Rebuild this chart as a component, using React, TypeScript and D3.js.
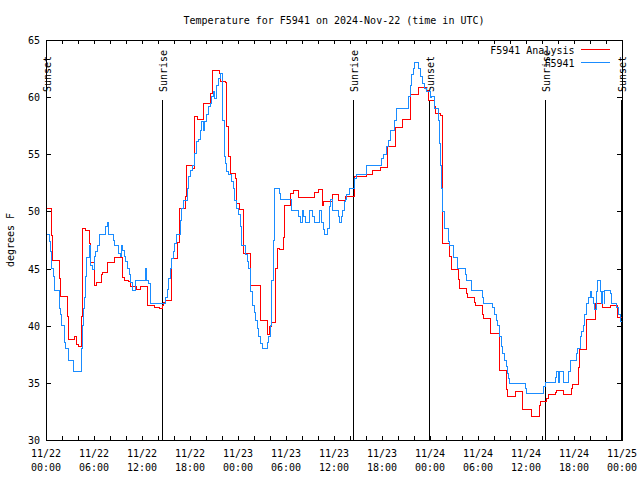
import React from 'react';
import * as d3 from 'd3';

// Hours since 2024-11-22 00:00 UTC, and temperatures (°F)
const redHours = [0,0.66,0.8,1.7,1.85,2.65,2.8,3.6,3.75,4.0,4.45,4.6,4.9,5.4,5.6,6.0,6.25,6.9,7.05,7.7,8.62,9.6,9.85,10.3,10.55,11.25,11.8,12.7,13.5,14.15,14.5,14.65,14.95,15.65,16.45,16.65,17.4,17.55,18.35,18.6,18.9,19.65,20.5,20.85,21.65,21.85,22.4,22.6,22.85,23.05,23.65,23.85,24.2,24.65,25.6,26.75,27.7,27.95,28.2,28.7,28.95,29.15,29.65,29.85,30.6,30.9,31.55,33.6,34.0,34.5,34.65,35.75,36.6,37.4,38.55,40.09,40.84,41.75,42.63,43.63,44.54,45.5,46.54,47.6,47.8,48.55,48.65,49.3,49.6,50.41,50.71,51.54,51.66,52.5,52.66,53.54,53.71,54.5,54.66,55.62,56.66,57.56,57.69,58.69,59.62,60.69,61.69,61.75,62.5,62.79,63.69,63.84,64.66,65.71,65.84,66.56,66.66,67.62,68.69,69.62,70.62,71.44];
const redTemps = [50.3,47.9,45.7,44.1,42.6,40.8,38.8,39.1,38.4,38.2,40.8,48.5,48.3,47.2,45.5,43.5,43.8,44.5,44.7,45.5,46.0,44.2,44.0,43.9,43.4,43.2,43.4,41.8,41.6,41.5,41.8,42.05,42.2,45.9,47.3,50.3,51.3,54.0,53.8,58.35,58.06,59.46,60.33,62.3,62.1,61.4,61.3,57.4,54.8,53.3,52.9,50.7,50.2,46.3,43.5,40.5,39.2,39.9,40.3,45.0,46.8,46.7,47.7,50.5,51.6,51.85,51.25,51.7,51.95,50.5,50.9,51.45,51.0,51.3,53.05,53.2,53.55,53.85,55.7,57.35,58.05,60.2,60.85,60.6,59.7,59.2,58.6,58.4,47.2,46.05,44.95,44.05,43.27,42.8,42.47,42.0,41.77,40.94,40.66,39.33,36.1,34.4,33.85,34.26,32.68,32.1,33.0,33.41,33.6,33.94,34.15,34.29,33.94,34.5,34.9,36.36,37.88,40.56,41.96,41.6,41.73,40.7];

const blueHours = [0,0.375,0.5,0.7,0.875,1.09,1.71,1.84,1.96,2.34,2.46,2.79,3.41,4.41,4.54,4.66,4.81,4.94,5.09,5.41,5.59,5.79,6.0,6.19,6.41,6.71,7.46,7.66,7.75,8.41,8.62,9.0,9.34,9.46,9.59,9.75,9.96,10.16,10.375,10.59,10.79,11.21,12.46,12.59,12.75,13.09,14.96,15.16,15.29,15.5,15.71,15.91,16.09,16.34,16.75,16.96,17.16,17.66,17.87,18.09,18.29,18.62,18.84,19.04,19.25,19.46,19.66,19.87,20.09,20.29,20.5,20.71,20.91,21.12,21.34,21.54,21.75,22.0,22.12,22.25,22.375,22.59,22.79,23.21,23.41,23.62,23.84,24.04,24.25,24.46,24.96,25.16,25.37,25.62,25.79,26.0,26.21,26.41,26.62,26.84,27.04,27.66,27.87,28.09,28.21,28.41,28.54,29.16,29.34,30.71,31.54,31.75,32.04,32.21,32.375,32.91,33.34,33.54,34.16,34.46,34.625,34.75,35.16,35.375,35.5,35.8,36.54,36.66,36.875,37.09,37.25,37.375,37.59,37.91,38.62,38.84,40.09,41.96,42.16,42.59,42.75,43.0,43.54,43.75,45.29,45.5,45.71,45.91,46.12,46.62,46.84,47.04,47.25,47.59,48.0,48.21,48.5,49.04,49.16,49.34,49.46,49.59,49.75,49.87,50.29,50.41,50.91,51.41,52.46,52.59,53.21,54.59,54.71,55.79,56.0,56.25,56.41,56.66,56.875,57.09,57.29,57.5,57.66,57.79,57.91,59.875,60.0,62.16,62.375,63.625,63.75,64.09,64.21,64.66,65.29,65.5,66.25,66.41,66.75,66.96,67.16,67.29,67.59,67.79,68.0,68.21,68.41,68.62,68.75,68.91,69.25,69.46,69.59,69.75,69.87,70.5,70.71,71.34,71.54,71.75];
const blueTemps = [48.0,47.35,46.5,45.0,44.35,43.04,41.5,41.0,40.0,38.5,38.0,36.97,36.0,38.0,40.0,41.5,42.5,44.3,45.98,47.06,45.3,44.9,46.04,46.5,47.06,48.0,48.67,49.05,48.0,47.5,47.06,46.33,46.1,47.0,46.6,46.04,45.6,45.0,44.5,43.77,43.04,44.0,45.0,44.0,43.7,41.96,42.5,43.2,44.1,45.0,45.9,46.48,47.2,48.0,49.25,50.27,51.0,52.0,53.04,53.6,54.06,55.08,56.1,56.3,57.1,57.85,57.04,57.85,58.44,59.17,59.46,60.04,60.48,59.9,61.06,61.65,62.08,61.6,58.0,54.8,54.2,53.5,53.2,52.6,52.0,51.0,50.3,49.7,48.67,47.06,46.2,45.6,45.0,42.98,41.8,41.2,40.5,39.77,39.04,38.46,38.0,38.5,39.04,40.0,44.0,47.5,52.0,51.6,51.06,50.04,49.54,49.05,50.04,49.54,49.05,50.04,49.54,49.05,50.04,49.0,48.38,48.0,48.5,50.4,51.06,50.04,49.54,49.05,49.54,50.04,50.9,51.06,51.5,52.0,52.9,53.2,54.06,54.65,55.0,55.67,56.25,57.04,58.0,59.02,60.04,61.0,61.94,62.5,63.04,62.5,61.8,61.2,60.77,60.5,59.95,60.04,59.02,58.0,55.96,54.06,52.0,49.98,49.25,48.5,47.4,47.06,45.98,45.0,44.5,44.0,43.04,42.5,41.96,41.6,41.0,40.5,40.06,39.04,38.17,37.6,37.0,36.4,35.8,35.4,34.96,34.5,34.03,34.67,35.02,35.5,35.98,35.02,35.98,35.02,35.98,37.0,37.6,38.0,39.04,39.5,40.0,41.0,41.96,42.5,42.98,42.5,41.96,41.4,42.98,44.0,42.98,41.96,42.98,41.96,43.04,42.8,41.96,41.6,40.94,40.35];

const yTicks = [30, 35, 40, 45, 50, 55, 60, 65];
const xTickHours = [0, 6, 12, 18, 24, 30, 36, 42, 48, 54, 60, 66, 72];
const xTickDates = ['11/22','11/22','11/22','11/22','11/23','11/23','11/23','11/23','11/24','11/24','11/24','11/24','11/25'];
const xTickTimes = ['00:00','06:00','12:00','18:00','00:00','06:00','12:00','18:00','00:00','06:00','12:00','18:00','00:00'];
const xMinorHours = d3.range(0, 73, 2);
const sunHours = [0, 14.5, 38.4, 47.9, 62.4, 71.92];
const sunLabels = ['Sunset','Sunrise','Sunrise','Sunset','Sunrise','Sunset'];

const seriesNames = ['F5941 Analysis', 'F5941'];
const seriesColors = ['#ff0000', '#1a8cff'];

const L = 46, R = 622, T = 40, B = 440;

export default function App() {
  const x = d3.scaleLinear().domain([0, 72]).range([L, R]);
  const y = d3.scaleLinear().domain([30, 65]).range([B, T]);
  const line = d3.line<[number, number]>()
    .x(d => x(d[0]))
    .y(d => y(d[1]))
    .curve(d3.curveStepAfter);
  const mk = (hs: number[], vs: number[]): [number, number][] => {
    const pts = hs.map((h, i) => [h, vs[i]] as [number, number]);
    pts.push([72, vs[vs.length - 1]]);
    return pts;
  };
  const redPath = line(mk(redHours, redTemps)) || '';
  const bluePath = line(mk(blueHours, blueTemps)) || '';

  return (
    <svg width={640} height={480} style={{ position: 'absolute', left: 0, top: 0, background: '#fff' }}
      fontFamily="'DejaVu Sans Mono', monospace" fontSize={10}>
      <rect x={0} y={0} width={640} height={480} fill="#fff" />
      <text x={(L + R) / 2} y={24} textAnchor="middle">Temperature for F5941 on 2024-Nov-22 (time in UTC)</text>

      {/* y ticks */}
      {yTicks.map(v => (
        <g key={'y' + v}>
          <line x1={L} x2={L + 5} y1={Math.round(y(v)) + 0.5} y2={Math.round(y(v)) + 0.5} stroke="#000" />
          <line x1={R - 5} x2={R} y1={Math.round(y(v)) + 0.5} y2={Math.round(y(v)) + 0.5} stroke="#000" />
          <text x={40} y={y(v) + 4} textAnchor="end">{v}</text>
        </g>
      ))}
      {/* x ticks */}
      {xMinorHours.map(h => (
        <g key={'xm' + h}>
          <line x1={Math.round(x(h)) + 0.5} x2={Math.round(x(h)) + 0.5} y1={B} y2={B - 4} stroke="#000" />
          <line x1={Math.round(x(h)) + 0.5} x2={Math.round(x(h)) + 0.5} y1={T} y2={T + 4} stroke="#000" />
        </g>
      ))}
      {xTickHours.map((h, i) => (
        <g key={'x' + h}>
          <text x={x(h)} y={457} textAnchor="middle">{xTickDates[i]}</text>
          <text x={x(h)} y={471} textAnchor="middle">{xTickTimes[i]}</text>
        </g>
      ))}

      <text transform="translate(13.5,240) rotate(-90)" textAnchor="middle">degrees F</text>

      {/* sun lines */}
      {sunHours.map((h, i) => (
        <g key={'s' + i}>
          <line x1={Math.round(x(h)) + 0.5} x2={Math.round(x(h)) + 0.5} y1={100} y2={B} stroke="#000" />
          <text transform={`translate(${x(h) + 5},92) rotate(-90)`} textAnchor="start">{sunLabels[i]}</text>
        </g>
      ))}

      <path d={redPath} fill="none" stroke={seriesColors[0]} strokeWidth={1} shapeRendering="crispEdges" />
      <path d={bluePath} fill="none" stroke={seriesColors[1]} strokeWidth={1} shapeRendering="crispEdges" />

      {/* frame */}
      <rect x={L + 0.5} y={T + 0.5} width={R - L} height={B - T} fill="none" stroke="#000" />

      {/* legend */}
      {seriesNames.map((n, i) => (
        <g key={'l' + i}>
          <text x={574.5} y={54 + i * 13} textAnchor="end">{n}</text>
          <line x1={581} x2={610} y1={49.5 + i * 13} y2={49.5 + i * 13} stroke={seriesColors[i]} />
        </g>
      ))}
    </svg>
  );
}
